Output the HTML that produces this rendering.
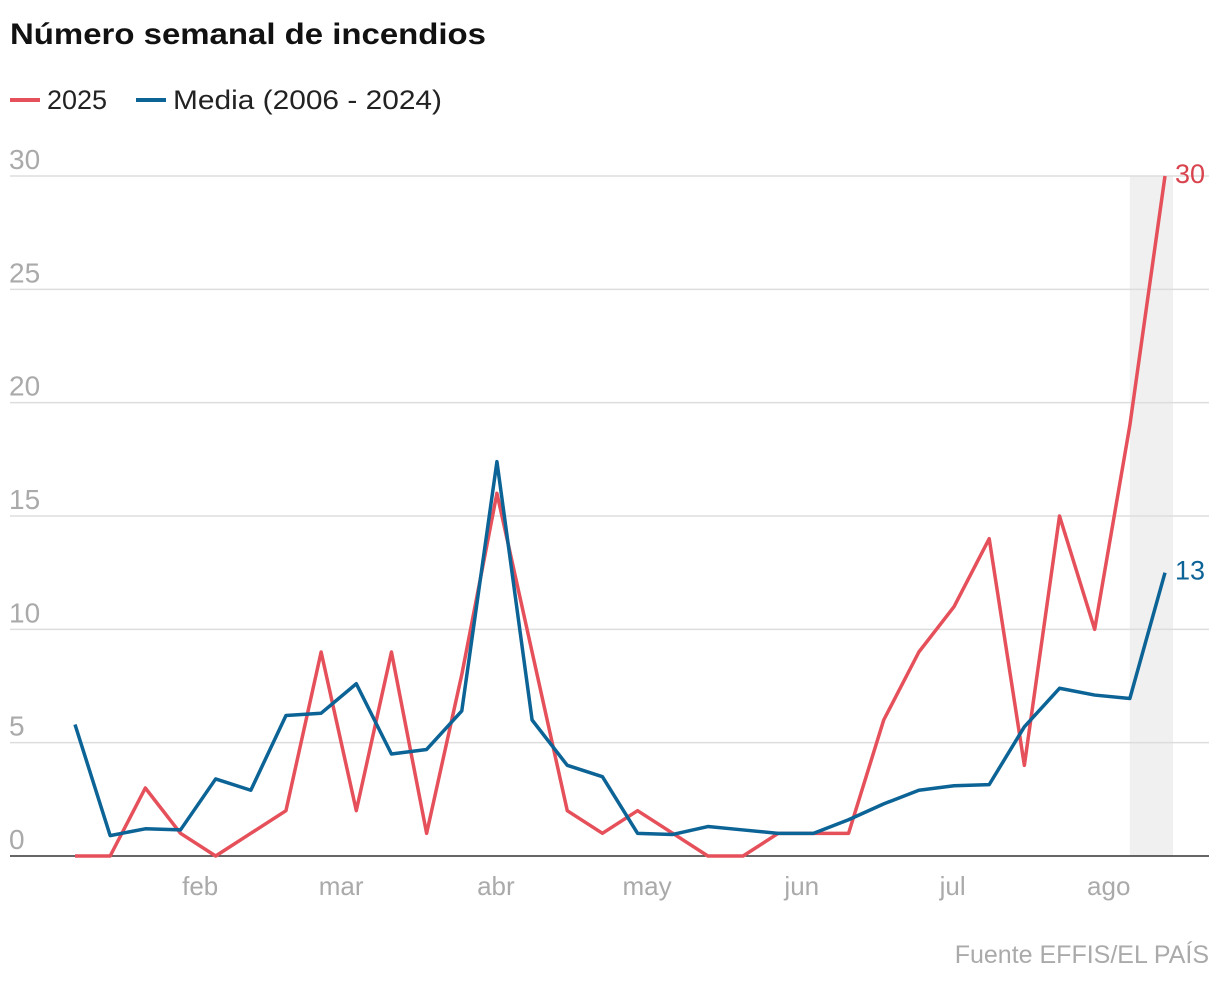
<!DOCTYPE html>
<html><head><meta charset="utf-8">
<style>
body{margin:0;background:#fff;font-family:"Liberation Sans",sans-serif;}
svg{display:block}
</style></head>
<body>
<svg id="chart" width="1220" height="984">
<text x="10" y="44" font-size="30" font-weight="bold" fill="#111" textLength="476" lengthAdjust="spacingAndGlyphs">Número semanal de incendios</text>
<g>
<line x1="10" y1="100" x2="40" y2="100" stroke="#e5505a" stroke-width="4"/>
<text x="47" y="109" font-size="27" fill="#222">2025</text>
<line x1="136" y1="100" x2="166" y2="100" stroke="#0c6396" stroke-width="4"/>
<text x="173" y="109" font-size="27" fill="#222" textLength="269" lengthAdjust="spacingAndGlyphs">Media (2006 - 2024)</text>
</g>
<g id="plot"></g>
<text x="1209" y="963" font-size="25" fill="#aaa" text-anchor="end">Fuente EFFIS/EL PAÍS</text>
</svg>
<script>
const red2025 = [0,0,3,1,0,1,2,9,2,9,1,8,16,9,2,1,2,1,0,0,1,1,1,6,9,11,14,4,15,10,19,30];
const mediaValues = [5.8,0.9,1.2,1.15,3.4,2.9,6.2,6.3,7.6,4.5,4.7,6.4,17.4,6,4,3.5,1,0.95,1.3,1.15,1,1,1.6,2.3,2.9,3.1,3.15,5.7,7.4,7.1,6.95,12.5];
const yTicks = [0,5,10,15,20,25,30];
const monthLabels = ["feb","mar","abr","may","jun","jul","ago"];
const monthPos = [3.56,7.57,11.97,16.27,20.67,24.96,29.4];
const highlightWeek = 30;

const NS="http://www.w3.org/2000/svg";
const g=document.getElementById('plot');
const x=i=>75+i*(1165-75)/31;
const y=v=>856-v*(856-176)/30;
function mk(t,a){const e=document.createElementNS(NS,t);for(const k in a)e.setAttribute(k,a[k]);g.appendChild(e);return e;}

let r=mk('rect',{x:x(highlightWeek),y:176,width:x(31)-x(highlightWeek)+8,height:680,fill:'#f0f0f0'});



yTicks.forEach(v=>{
  if(v>0){let l=mk('line',{x1:10,x2:1209,y1:y(v),y2:y(v),stroke:'#ddd','stroke-width':1.5});
  
  }
  let t=mk('text',{x:9,y:y(v)-7,'font-size':28,fill:'#aaa'});t.textContent=v;
  
  
});
let ax=mk('line',{x1:10,x2:1209,y1:y(0),y2:y(0),stroke:'#333','stroke-width':1.5});


monthLabels.forEach((m,i)=>{
  let t=mk('text',{x:x(monthPos[i]),y:895,'font-size':26,fill:'#aaa','text-anchor':'middle'});t.textContent=m;
  
  
});
function line(vals,col,name){
  let p=mk('polyline',{points:vals.map((v,i)=>x(i)+','+y(v)).join(' '),fill:'none',stroke:col,'stroke-width':3.5,'stroke-linejoin':'round'});
  
  
}
line(red2025,'#e5505a','line-2025');
line(mediaValues,'#0c6396','line-media');
let l1=mk('text',{x:1175,y:y(red2025[31])+7,'font-size':27,fill:'#d9434d'});l1.textContent=Math.round(red2025[31]);


let l2=mk('text',{x:1175,y:y(mediaValues[31])+7,'font-size':27,fill:'#0c6396'});l2.textContent=Math.round(mediaValues[31]);


</script>
</body></html>
